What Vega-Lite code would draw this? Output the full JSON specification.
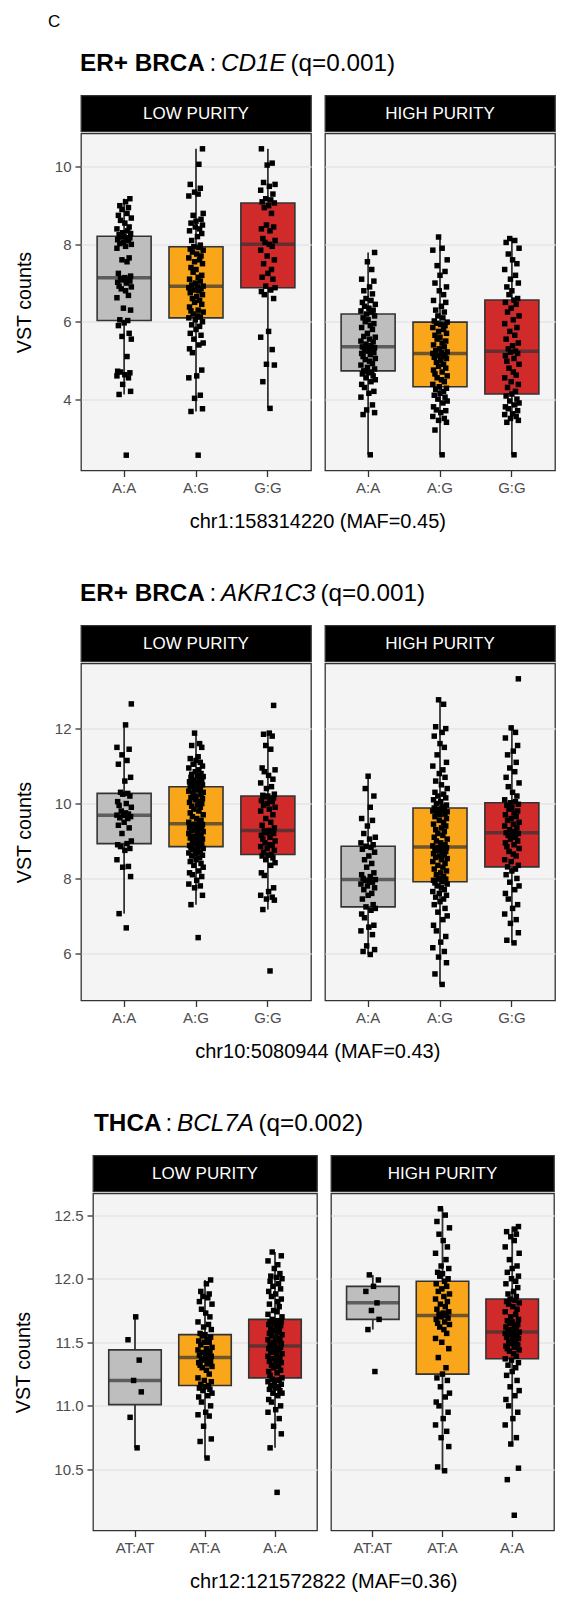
{
"$schema": "https://vega.github.io/schema/vega-lite/v6.json",
"padding": {"left": 0, "top": 13, "right": 5, "bottom": 10},
"title": {"text": "C", "anchor": "start", "fontSize": 17, "fontWeight": "normal", "dx": 48, "offset": 20, "frame": "bounds"},
"spacing": 48,
"resolve": {"scale": {"color": "independent", "xOffset": "independent"}},
"config": {
  "font": "Liberation Sans",
  "view": {"stroke": null},
  "axis": {"labelFont": "Liberation Sans", "titleFont": "Liberation Sans", "labelFontSize": 15, "labelColor": "#4D4D4D", "titleFontSize": 19.7, "titleFontWeight": "normal", "titleColor": "#000000", "tickColor": "#333333", "tickWidth": 1.3, "tickSize": 6, "domain": false, "labelPadding": 4, "gridColor": "#E5E6E5", "gridWidth": 1.3},
  "axisX": {"grid": false, "labelAngle": 0},
  "axisY": {"grid": true, "titlePadding": 20},
  "title": {"font": "Liberation Sans", "color": "#000000", "fontWeight": "normal"}
},
"datasets": {
  "pts": [
    {"pn":1,"pur":"LOW PURITY","gt":"A:A","v":[2.55,4.12,4.2,4.38,4.55,4.6,4.63,4.68,4.7,4.72,5.1,5.55,5.62,5.7,5.9,5.97,6.03,6.05,6.3,6.35,6.62,6.68,6.8,6.85,6.9,6.92,7.0,7.02,7.05,7.08,7.1,7.12,7.14,7.18,7.25,7.55,7.6,7.65,7.9,7.95,8.0,8.02,8.05,8.1,8.12,8.15,8.17,8.19,8.21,8.25,8.28,8.3,8.35,8.4,8.45,8.55,8.62,8.68,8.75,8.8,8.9,8.95,9.0,9.1,9.18]},
    {"pn":1,"pur":"LOW PURITY","gt":"A:G","v":[2.55,3.68,3.75,4.02,4.1,4.55,4.6,4.75,5.2,5.3,5.4,5.45,5.55,5.65,5.7,5.8,5.88,5.92,6.0,6.05,6.1,6.12,6.15,6.2,6.25,6.28,6.3,6.38,6.45,6.5,6.55,6.6,6.65,6.7,6.75,6.8,6.82,6.85,6.88,6.9,6.92,6.95,7.0,7.05,7.1,7.15,7.2,7.28,7.35,7.4,7.5,7.55,7.6,7.65,7.7,7.75,7.8,7.85,7.88,7.92,7.94,7.98,8.1,8.2,8.28,8.35,8.4,8.45,8.5,8.55,8.6,8.65,8.75,8.8,9.25,9.3,9.35,9.45,9.55,10.07,10.47]},
    {"pn":1,"pur":"LOW PURITY","gt":"G:G","v":[3.76,4.45,4.88,4.9,5.28,5.6,5.75,6.6,6.7,6.78,6.82,6.88,6.92,7.1,7.15,7.25,7.35,7.5,7.6,7.7,7.85,7.95,8.0,8.05,8.1,8.15,8.35,8.4,8.45,8.5,8.8,8.95,9.0,9.07,9.1,9.15,9.18,9.3,9.4,9.5,9.55,9.6,10.05,10.1,10.47]},
    {"pn":1,"pur":"HIGH PURITY","gt":"A:A","v":[2.56,3.6,3.65,3.72,3.85,4.05,4.15,4.2,4.3,4.38,4.45,4.5,4.55,4.6,4.65,4.68,4.7,4.73,4.78,4.82,4.88,4.92,4.98,5.02,5.05,5.1,5.15,5.18,5.2,5.24,5.27,5.3,5.32,5.33,5.35,5.38,5.42,5.48,5.5,5.55,5.6,5.62,5.7,5.8,5.85,5.9,5.95,6.0,6.05,6.1,6.15,6.2,6.25,6.28,6.3,6.35,6.4,6.45,6.5,6.55,6.6,6.72,6.8,6.9,7.05,7.1,7.35,7.55,7.79]},
    {"pn":1,"pur":"HIGH PURITY","gt":"A:G","v":[2.56,3.2,3.4,3.45,3.5,3.55,3.65,3.7,3.72,3.8,3.9,3.95,4.0,4.05,4.1,4.15,4.2,4.25,4.28,4.32,4.38,4.45,4.5,4.55,4.6,4.65,4.7,4.75,4.8,4.85,4.9,4.95,5.0,5.05,5.08,5.1,5.12,5.15,5.18,5.2,5.22,5.25,5.3,5.35,5.4,5.45,5.5,5.55,5.6,5.65,5.7,5.75,5.8,5.85,5.9,5.93,5.96,5.99,6.02,6.1,6.15,6.25,6.3,6.4,6.5,6.55,6.7,6.8,6.9,7.0,7.2,7.3,7.45,7.6,7.85,7.9,8.19]},
    {"pn":1,"pur":"HIGH PURITY","gt":"G:G","v":[2.56,3.4,3.45,3.5,3.55,3.6,3.62,3.7,3.75,3.8,3.85,3.9,3.95,4.0,4.08,4.13,4.2,4.3,4.38,4.45,4.55,4.62,4.7,4.8,4.9,4.98,5.05,5.12,5.18,5.21,5.24,5.3,5.38,5.45,5.55,5.65,5.75,5.85,5.95,6.05,6.15,6.25,6.35,6.45,6.5,6.56,6.6,6.7,6.8,6.9,7.0,7.1,7.2,7.35,7.5,7.6,7.75,7.9,8.05,8.1,8.15]},
    {"pn":2,"pur":"LOW PURITY","gt":"A:A","v":[6.68,7.06,8.05,8.3,8.32,8.5,8.75,8.8,8.85,8.9,8.93,9.0,9.2,9.35,9.42,9.5,9.6,9.62,9.65,9.68,9.69,9.72,9.75,9.8,9.9,9.95,10.0,10.05,10.2,10.25,10.27,10.3,10.6,10.7,11.05,11.15,11.3,11.45,11.5,12.1,12.66]},
    {"pn":2,"pur":"LOW PURITY","gt":"A:G","v":[6.42,7.3,7.55,7.75,7.8,7.85,7.95,8.05,8.1,8.15,8.2,8.3,8.35,8.4,8.45,8.5,8.55,8.6,8.62,8.65,8.68,8.7,8.74,8.77,8.8,8.82,8.85,8.88,8.9,8.93,8.96,9.0,9.02,9.05,9.08,9.1,9.13,9.16,9.2,9.22,9.25,9.28,9.3,9.32,9.35,9.37,9.39,9.4,9.42,9.43,9.44,9.45,9.46,9.5,9.55,9.6,9.65,9.7,9.75,9.8,9.85,9.9,9.93,9.96,10.0,10.03,10.06,10.1,10.13,10.16,10.2,10.24,10.28,10.3,10.33,10.36,10.4,10.42,10.45,10.48,10.5,10.52,10.55,10.58,10.6,10.63,10.66,10.7,10.72,10.75,10.78,10.8,10.85,10.9,10.95,11.0,11.05,11.1,11.15,11.2,11.25,11.5,11.55,11.6,11.88]},
    {"pn":2,"pur":"LOW PURITY","gt":"G:G","v":[5.53,7.17,7.42,7.45,7.5,7.55,7.65,7.75,8.08,8.15,8.35,8.42,8.5,8.55,8.6,8.62,8.64,8.7,8.75,8.8,8.85,8.88,8.9,8.95,9.0,9.05,9.1,9.15,9.2,9.22,9.25,9.27,9.28,9.35,9.42,9.5,9.6,9.7,9.8,9.85,9.9,9.95,10.0,10.05,10.08,10.1,10.15,10.18,10.2,10.22,10.25,10.4,10.45,10.55,10.65,10.75,10.85,10.9,10.95,11.45,11.55,11.8,11.85,11.88,12.62]},
    {"pn":2,"pur":"HIGH PURITY","gt":"A:A","v":[5.97,6.05,6.1,6.2,6.5,6.6,6.7,6.75,6.95,7.05,7.15,7.2,7.24,7.3,7.45,7.55,7.6,7.7,7.75,7.8,7.85,7.9,7.93,7.95,7.97,8.0,8.05,8.1,8.15,8.3,8.4,8.5,8.6,8.7,8.78,8.83,8.86,8.9,8.95,9.05,9.1,9.2,9.4,9.55,9.6,9.9,10.2,10.4,10.73]},
    {"pn":2,"pur":"HIGH PURITY","gt":"A:G","v":[5.17,5.45,5.75,5.9,6.05,6.15,6.3,6.45,6.6,6.75,6.9,7.0,7.1,7.2,7.3,7.38,7.45,7.5,7.55,7.6,7.65,7.7,7.75,7.8,7.85,7.88,7.91,7.95,7.98,8.0,8.05,8.1,8.15,8.2,8.25,8.3,8.35,8.4,8.45,8.5,8.53,8.56,8.6,8.63,8.66,8.7,8.72,8.75,8.78,8.8,8.82,8.83,8.84,8.87,8.9,8.95,9.0,9.05,9.1,9.15,9.2,9.25,9.3,9.35,9.4,9.45,9.5,9.55,9.6,9.65,9.7,9.72,9.75,9.78,9.8,9.83,9.85,9.87,9.88,9.92,9.96,10.0,10.05,10.1,10.15,10.2,10.25,10.3,10.4,10.5,10.6,10.7,10.8,10.9,11.0,11.1,11.3,11.5,11.6,11.8,11.9,12.0,12.05,12.65,12.77]},
    {"pn":2,"pur":"HIGH PURITY","gt":"G:G","v":[6.28,6.35,6.55,6.8,6.9,7.05,7.2,7.3,7.45,7.6,7.7,7.8,7.9,8.0,8.1,8.2,8.25,8.31,8.35,8.45,8.5,8.6,8.65,8.72,8.8,8.85,8.9,8.95,9.0,9.05,9.1,9.15,9.18,9.2,9.22,9.25,9.3,9.35,9.4,9.45,9.5,9.55,9.6,9.65,9.7,9.75,9.8,9.85,9.9,9.95,9.98,10.02,10.05,10.1,10.2,10.3,10.45,10.55,10.7,10.85,10.95,11.1,11.3,11.4,11.55,11.75,11.9,12.02,13.33]},
    {"pn":3,"pur":"LOW PURITY","gt":"AT:AT","v":[10.67,10.91,11.11,11.2,11.36,11.52,11.7]},
    {"pn":3,"pur":"LOW PURITY","gt":"AT:A","v":[10.59,10.72,10.74,10.84,10.92,10.93,10.95,11.0,11.03,11.07,11.08,11.1,11.12,11.13,11.14,11.15,11.16,11.17,11.19,11.2,11.22,11.25,11.28,11.3,11.31,11.32,11.33,11.34,11.35,11.36,11.37,11.37,11.38,11.39,11.4,11.41,11.42,11.43,11.44,11.45,11.46,11.48,11.5,11.5,11.51,11.52,11.54,11.55,11.56,11.57,11.6,11.62,11.64,11.66,11.7,11.73,11.76,11.8,11.82,11.85,11.86,11.88,11.9,11.96,11.99]},
    {"pn":3,"pur":"LOW PURITY","gt":"A:A","v":[10.32,10.67,10.78,10.84,10.9,10.95,10.97,11.0,11.03,11.05,11.08,11.1,11.1,11.12,11.13,11.14,11.15,11.16,11.17,11.18,11.19,11.2,11.2,11.21,11.22,11.24,11.26,11.27,11.28,11.3,11.31,11.32,11.33,11.34,11.35,11.36,11.37,11.38,11.39,11.4,11.41,11.42,11.43,11.44,11.45,11.45,11.46,11.46,11.47,11.48,11.49,11.5,11.51,11.52,11.53,11.54,11.55,11.56,11.57,11.58,11.59,11.6,11.61,11.62,11.63,11.64,11.65,11.65,11.66,11.66,11.67,11.67,11.68,11.7,11.72,11.74,11.75,11.78,11.8,11.82,11.84,11.86,11.88,11.9,11.92,11.94,11.96,11.98,12.0,12.01,12.02,12.04,12.08,12.11,12.14,12.18,12.21]},
    {"pn":3,"pur":"HIGH PURITY","gt":"AT:AT","v":[11.27,11.6,11.68,11.75,11.81,11.9,11.94,11.99,12.03]},
    {"pn":3,"pur":"HIGH PURITY","gt":"AT:A","v":[10.49,10.52,10.68,10.75,10.8,10.85,10.9,10.95,11.0,11.03,11.07,11.1,11.15,11.2,11.22,11.25,11.3,11.38,11.45,11.5,11.53,11.57,11.6,11.62,11.64,11.65,11.66,11.68,11.69,11.7,11.71,11.72,11.73,11.74,11.76,11.78,11.8,11.82,11.84,11.86,11.88,11.9,11.92,11.94,11.96,11.98,12.0,12.02,12.04,12.05,12.08,12.1,12.15,12.2,12.25,12.3,12.35,12.4,12.45,12.5,12.55]},
    {"pn":3,"pur":"HIGH PURITY","gt":"A:A","v":[10.14,10.42,10.51,10.7,10.75,10.85,10.9,10.95,11.0,11.05,11.08,11.12,11.15,11.2,11.24,11.27,11.3,11.32,11.34,11.36,11.37,11.39,11.41,11.43,11.44,11.45,11.46,11.47,11.48,11.49,11.5,11.51,11.52,11.53,11.54,11.55,11.56,11.56,11.57,11.57,11.58,11.59,11.6,11.61,11.62,11.63,11.64,11.65,11.66,11.67,11.68,11.7,11.72,11.74,11.76,11.78,11.8,11.81,11.82,11.83,11.84,11.86,11.88,11.9,11.93,11.96,11.98,12.0,12.02,12.05,12.08,12.1,12.15,12.2,12.25,12.3,12.33,12.35,12.37,12.39,12.41]}
  ],
  "jit": [
    {"i":1,"j":0.03},{"i":2,"j":-0.07},{"i":3,"j":0.09},{"i":4,"j":-0.02},{"i":5,"j":0.06},{"i":6,"j":-0.1},{"i":7,"j":0.01},{"i":8,"j":0.08},{"i":9,"j":-0.05},{"i":10,"j":-0.09},
    {"i":11,"j":0.04},{"i":12,"j":0.1},{"i":13,"j":-0.03},{"i":14,"j":0.07},{"i":15,"j":-0.08},{"i":16,"j":0.0},{"i":17,"j":0.05},{"i":18,"j":-0.06},{"i":19,"j":0.09},{"i":20,"j":-0.01},
    {"i":21,"j":-0.1},{"i":22,"j":0.06},{"i":23,"j":0.02},{"i":24,"j":-0.04},{"i":25,"j":0.1},{"i":26,"j":-0.07},{"i":27,"j":0.03},{"i":28,"j":-0.09},{"i":29,"j":0.08},{"i":30,"j":-0.02},
    {"i":31,"j":0.05},{"i":32,"j":-0.05},{"i":33,"j":0.01},{"i":34,"j":0.09},{"i":35,"j":-0.08},{"i":36,"j":0.04},{"i":37,"j":-0.03},{"i":38,"j":0.07},{"i":39,"j":-0.1},{"i":40,"j":0.02},
    {"i":41,"j":0.1},{"i":42,"j":-0.06},{"i":43,"j":-0.01},{"i":44,"j":0.06},{"i":45,"j":-0.09},{"i":46,"j":0.03},{"i":47,"j":0.08},{"i":48,"j":-0.04},{"i":49,"j":0.0},{"i":50,"j":-0.07},
    {"i":51,"j":0.09},{"i":52,"j":-0.02},{"i":53,"j":0.05},{"i":54,"j":-0.1},{"i":55,"j":0.07},{"i":56,"j":0.01},{"i":57,"j":-0.05},{"i":58,"j":0.1},{"i":59,"j":-0.08},{"i":60,"j":0.04},
    {"i":61,"j":-0.03},{"i":62,"j":0.06},{"i":63,"j":-0.06},{"i":64,"j":0.02},{"i":65,"j":0.08},{"i":66,"j":-0.09},{"i":67,"j":0.05},{"i":68,"j":-0.01},{"i":69,"j":0.09},{"i":70,"j":-0.07},
    {"i":71,"j":0.0},{"i":72,"j":0.07},{"i":73,"j":-0.04},{"i":74,"j":0.1},{"i":75,"j":-0.1},{"i":76,"j":0.03},{"i":77,"j":-0.02},{"i":78,"j":0.06},{"i":79,"j":-0.08},{"i":80,"j":0.04},
    {"i":81,"j":0.09},{"i":82,"j":-0.05},{"i":83,"j":0.01},{"i":84,"j":-0.09},{"i":85,"j":0.08},{"i":86,"j":-0.03},{"i":87,"j":0.05},{"i":88,"j":-0.07},{"i":89,"j":0.1},{"i":90,"j":0.02},
    {"i":91,"j":-0.06},{"i":92,"j":0.07},{"i":93,"j":-0.01},{"i":94,"j":0.04},{"i":95,"j":-0.1},{"i":96,"j":0.09},{"i":97,"j":-0.04},{"i":98,"j":0.06},{"i":99,"j":0.0},{"i":100,"j":-0.08},
    {"i":101,"j":0.03},{"i":102,"j":0.08},{"i":103,"j":-0.06},{"i":104,"j":0.05},{"i":105,"j":-0.02}
  ]
},
"vconcat": [
  {
    "spacing": 17.5,
    "resolve": {"scale": {"color": "independent", "xOffset": "independent"}},
    "vconcat": [
      {
        "spacing": 3.5,
        "hconcat": [
          {"width": 76, "height": 26, "data": {"values": []}, "mark": "text", "encoding": {"text": {"field": "t", "type": "nominal"}}},
          {"width": 1, "height": 26, "data": {"values": [{"t": "ER+ BRCA"}]}, "mark": {"type": "text", "align": "left", "baseline": "middle", "fontSize": 24.3, "fontWeight": "bold", "color": "#000000"}, "encoding": {"text": {"field": "t", "type": "nominal"}}},
          {"width": 1, "height": 26, "data": {"values": [{"t": ":"}]}, "mark": {"type": "text", "align": "left", "baseline": "middle", "fontSize": 24.3, "color": "#000000"}, "encoding": {"text": {"field": "t", "type": "nominal"}}},
          {"width": 1, "height": 26, "data": {"values": [{"t": "CD1E"}]}, "mark": {"type": "text", "align": "left", "baseline": "middle", "fontSize": 24.3, "fontStyle": "italic", "color": "#000000"}, "encoding": {"text": {"field": "t", "type": "nominal"}}},
          {"width": 1, "height": 26, "data": {"values": [{"t": "(q=0.001)"}]}, "mark": {"type": "text", "align": "left", "baseline": "middle", "fontSize": 24.3, "color": "#000000"}, "encoding": {"text": {"field": "t", "type": "nominal"}}}
        ]
      },
      {
        "spacing": 12,
        "resolve": {"scale": {"color": "independent", "xOffset": "independent"}},
        "title": {"text": "chr1:158314220 (MAF=0.45)", "orient": "bottom", "anchor": "middle", "frame": "bounds", "fontSize": 20, "fontWeight": "normal", "offset": 16, "dx": 40},
        "hconcat": [
          {"width": 1, "height": 1, "data": {"values": []}, "mark": "text", "encoding": {"text": {"field": "t", "type": "nominal"}}},
          {
            "spacing": 0,
            "vconcat": [
              {"width": 230, "height": 36, "view": {"fill": "#000000", "stroke": "#333333", "strokeWidth": 1.3}, "data": {"values": [{"t": "LOW PURITY"}]}, "mark": {"type": "text", "color": "#FFFFFF", "fontSize": 17, "baseline": "middle", "align": "center"}, "encoding": {"text": {"field": "t", "type": "nominal"}}},
              {
                "width": 230, "height": 337,
                "view": {"fill": "#F3F4F3", "stroke": "#333333", "strokeWidth": 1.3},
                "data": {"name": "pts"},
                "transform": [
                  {"filter": "datum.pn == 1 && datum.pur == 'LOW PURITY'"},
                  {"flatten": ["v"]},
                  {"window": [{"op": "row_number", "as": "i"}], "groupby": ["gt"]},
                  {"lookup": "i", "from": {"data": {"name": "jit"}, "key": "i", "fields": ["j"]}}
                ],
                "encoding": {
                  "x": {"field": "gt", "type": "nominal", "scale": {"domain": ["A:A","A:G","G:G"], "paddingInner": 0.25, "paddingOuter": 0.225}, "axis": {"title": null}},
                  "y": {"field": "v", "type": "quantitative", "scale": {"domain": [2.154, 10.866], "nice": false, "zero": false}, "axis": {"title": "VST counts", "values": [4,6,8,10]}}
                },
                "layer": [
                  {"mark": {"type": "boxplot", "extent": 1.5, "outliers": false, "ticks": false, "size": 54, "rule": {"color": "#333333", "strokeWidth": 1.8}, "box": {"stroke": "#333333", "strokeWidth": 1.6}, "median": {"color": "#333333", "thickness": 3.5}},
                   "encoding": {"color": {"field": "gt", "type": "nominal", "scale": {"domain": ["A:A","A:G","G:G"], "range": ["#BEBEBE","#F9A61A","#D02A2A"]}, "legend": null}}},
                  {"mark": {"type": "point", "shape": "square", "filled": true, "size": 30, "color": "#000000", "opacity": 1, "strokeWidth": 0},
                   "encoding": {"xOffset": {"field": "j", "type": "quantitative", "scale": {"domain": [-0.375, 0.375]}}}}
                ]
              }
            ]
          },
          {
            "spacing": 0,
            "vconcat": [
              {"width": 230, "height": 36, "view": {"fill": "#000000", "stroke": "#333333", "strokeWidth": 1.3}, "data": {"values": [{"t": "HIGH PURITY"}]}, "mark": {"type": "text", "color": "#FFFFFF", "fontSize": 17, "baseline": "middle", "align": "center"}, "encoding": {"text": {"field": "t", "type": "nominal"}}},
              {
                "width": 230, "height": 337,
                "view": {"fill": "#F3F4F3", "stroke": "#333333", "strokeWidth": 1.3},
                "data": {"name": "pts"},
                "transform": [
                  {"filter": "datum.pn == 1 && datum.pur == 'HIGH PURITY'"},
                  {"flatten": ["v"]},
                  {"window": [{"op": "row_number", "as": "i"}], "groupby": ["gt"]},
                  {"lookup": "i", "from": {"data": {"name": "jit"}, "key": "i", "fields": ["j"]}}
                ],
                "encoding": {
                  "x": {"field": "gt", "type": "nominal", "scale": {"domain": ["A:A","A:G","G:G"], "paddingInner": 0.25, "paddingOuter": 0.225}, "axis": {"title": null}},
                  "y": {"field": "v", "type": "quantitative", "scale": {"domain": [2.154, 10.866], "nice": false, "zero": false}, "axis": {"title": null, "values": [4,6,8,10], "labels": false, "ticks": false}}
                },
                "layer": [
                  {"mark": {"type": "boxplot", "extent": 1.5, "outliers": false, "ticks": false, "size": 54, "rule": {"color": "#333333", "strokeWidth": 1.8}, "box": {"stroke": "#333333", "strokeWidth": 1.6}, "median": {"color": "#333333", "thickness": 3.5}},
                   "encoding": {"color": {"field": "gt", "type": "nominal", "scale": {"domain": ["A:A","A:G","G:G"], "range": ["#BEBEBE","#F9A61A","#D02A2A"]}, "legend": null}}},
                  {"mark": {"type": "point", "shape": "square", "filled": true, "size": 30, "color": "#000000", "opacity": 1, "strokeWidth": 0},
                   "encoding": {"xOffset": {"field": "j", "type": "quantitative", "scale": {"domain": [-0.375, 0.375]}}}}
                ]
              }
            ]
          }
        ]
      }
    ]
  },
  {
    "spacing": 17.5,
    "resolve": {"scale": {"color": "independent", "xOffset": "independent"}},
    "vconcat": [
      {
        "spacing": 3.5,
        "hconcat": [
          {"width": 76, "height": 26, "data": {"values": []}, "mark": "text", "encoding": {"text": {"field": "t", "type": "nominal"}}},
          {"width": 1, "height": 26, "data": {"values": [{"t": "ER+ BRCA"}]}, "mark": {"type": "text", "align": "left", "baseline": "middle", "fontSize": 24.3, "fontWeight": "bold", "color": "#000000"}, "encoding": {"text": {"field": "t", "type": "nominal"}}},
          {"width": 1, "height": 26, "data": {"values": [{"t": ":"}]}, "mark": {"type": "text", "align": "left", "baseline": "middle", "fontSize": 24.3, "color": "#000000"}, "encoding": {"text": {"field": "t", "type": "nominal"}}},
          {"width": 1, "height": 26, "data": {"values": [{"t": "AKR1C3"}]}, "mark": {"type": "text", "align": "left", "baseline": "middle", "fontSize": 24.3, "fontStyle": "italic", "color": "#000000"}, "encoding": {"text": {"field": "t", "type": "nominal"}}},
          {"width": 1, "height": 26, "data": {"values": [{"t": "(q=0.001)"}]}, "mark": {"type": "text", "align": "left", "baseline": "middle", "fontSize": 24.3, "color": "#000000"}, "encoding": {"text": {"field": "t", "type": "nominal"}}}
        ]
      },
      {
        "spacing": 12,
        "resolve": {"scale": {"color": "independent", "xOffset": "independent"}},
        "title": {"text": "chr10:5080944 (MAF=0.43)", "orient": "bottom", "anchor": "middle", "frame": "bounds", "fontSize": 20, "fontWeight": "normal", "offset": 16, "dx": 40},
        "hconcat": [
          {"width": 1, "height": 1, "data": {"values": []}, "mark": "text", "encoding": {"text": {"field": "t", "type": "nominal"}}},
          {
            "spacing": 0,
            "vconcat": [
              {"width": 230, "height": 36, "view": {"fill": "#000000", "stroke": "#333333", "strokeWidth": 1.3}, "data": {"values": [{"t": "LOW PURITY"}]}, "mark": {"type": "text", "color": "#FFFFFF", "fontSize": 17, "baseline": "middle", "align": "center"}, "encoding": {"text": {"field": "t", "type": "nominal"}}},
              {
                "width": 230, "height": 337,
                "view": {"fill": "#F3F4F3", "stroke": "#333333", "strokeWidth": 1.3},
                "data": {"name": "pts"},
                "transform": [
                  {"filter": "datum.pn == 2 && datum.pur == 'LOW PURITY'"},
                  {"flatten": ["v"]},
                  {"window": [{"op": "row_number", "as": "i"}], "groupby": ["gt"]},
                  {"lookup": "i", "from": {"data": {"name": "jit"}, "key": "i", "fields": ["j"]}}
                ],
                "encoding": {
                  "x": {"field": "gt", "type": "nominal", "scale": {"domain": ["A:A","A:G","G:G"], "paddingInner": 0.25, "paddingOuter": 0.225}, "axis": {"title": null}},
                  "y": {"field": "v", "type": "quantitative", "scale": {"domain": [4.741, 13.739], "nice": false, "zero": false}, "axis": {"title": "VST counts", "values": [6,8,10,12]}}
                },
                "layer": [
                  {"mark": {"type": "boxplot", "extent": 1.5, "outliers": false, "ticks": false, "size": 54, "rule": {"color": "#333333", "strokeWidth": 1.8}, "box": {"stroke": "#333333", "strokeWidth": 1.6}, "median": {"color": "#333333", "thickness": 3.5}},
                   "encoding": {"color": {"field": "gt", "type": "nominal", "scale": {"domain": ["A:A","A:G","G:G"], "range": ["#BEBEBE","#F9A61A","#D02A2A"]}, "legend": null}}},
                  {"mark": {"type": "point", "shape": "square", "filled": true, "size": 30, "color": "#000000", "opacity": 1, "strokeWidth": 0},
                   "encoding": {"xOffset": {"field": "j", "type": "quantitative", "scale": {"domain": [-0.375, 0.375]}}}}
                ]
              }
            ]
          },
          {
            "spacing": 0,
            "vconcat": [
              {"width": 230, "height": 36, "view": {"fill": "#000000", "stroke": "#333333", "strokeWidth": 1.3}, "data": {"values": [{"t": "HIGH PURITY"}]}, "mark": {"type": "text", "color": "#FFFFFF", "fontSize": 17, "baseline": "middle", "align": "center"}, "encoding": {"text": {"field": "t", "type": "nominal"}}},
              {
                "width": 230, "height": 337,
                "view": {"fill": "#F3F4F3", "stroke": "#333333", "strokeWidth": 1.3},
                "data": {"name": "pts"},
                "transform": [
                  {"filter": "datum.pn == 2 && datum.pur == 'HIGH PURITY'"},
                  {"flatten": ["v"]},
                  {"window": [{"op": "row_number", "as": "i"}], "groupby": ["gt"]},
                  {"lookup": "i", "from": {"data": {"name": "jit"}, "key": "i", "fields": ["j"]}}
                ],
                "encoding": {
                  "x": {"field": "gt", "type": "nominal", "scale": {"domain": ["A:A","A:G","G:G"], "paddingInner": 0.25, "paddingOuter": 0.225}, "axis": {"title": null}},
                  "y": {"field": "v", "type": "quantitative", "scale": {"domain": [4.741, 13.739], "nice": false, "zero": false}, "axis": {"title": null, "values": [6,8,10,12], "labels": false, "ticks": false}}
                },
                "layer": [
                  {"mark": {"type": "boxplot", "extent": 1.5, "outliers": false, "ticks": false, "size": 54, "rule": {"color": "#333333", "strokeWidth": 1.8}, "box": {"stroke": "#333333", "strokeWidth": 1.6}, "median": {"color": "#333333", "thickness": 3.5}},
                   "encoding": {"color": {"field": "gt", "type": "nominal", "scale": {"domain": ["A:A","A:G","G:G"], "range": ["#BEBEBE","#F9A61A","#D02A2A"]}, "legend": null}}},
                  {"mark": {"type": "point", "shape": "square", "filled": true, "size": 30, "color": "#000000", "opacity": 1, "strokeWidth": 0},
                   "encoding": {"xOffset": {"field": "j", "type": "quantitative", "scale": {"domain": [-0.375, 0.375]}}}}
                ]
              }
            ]
          }
        ]
      }
    ]
  },
  {
    "spacing": 17.5,
    "resolve": {"scale": {"color": "independent", "xOffset": "independent"}},
    "vconcat": [
      {
        "spacing": 3.5,
        "hconcat": [
          {"width": 89.5, "height": 26, "data": {"values": []}, "mark": "text", "encoding": {"text": {"field": "t", "type": "nominal"}}},
          {"width": 1, "height": 26, "data": {"values": [{"t": "THCA"}]}, "mark": {"type": "text", "align": "left", "baseline": "middle", "fontSize": 24.3, "fontWeight": "bold", "color": "#000000"}, "encoding": {"text": {"field": "t", "type": "nominal"}}},
          {"width": 1, "height": 26, "data": {"values": [{"t": ":"}]}, "mark": {"type": "text", "align": "left", "baseline": "middle", "fontSize": 24.3, "color": "#000000"}, "encoding": {"text": {"field": "t", "type": "nominal"}}},
          {"width": 1, "height": 26, "data": {"values": [{"t": "BCL7A"}]}, "mark": {"type": "text", "align": "left", "baseline": "middle", "fontSize": 24.3, "fontStyle": "italic", "color": "#000000"}, "encoding": {"text": {"field": "t", "type": "nominal"}}},
          {"width": 1, "height": 26, "data": {"values": [{"t": "(q=0.002)"}]}, "mark": {"type": "text", "align": "left", "baseline": "middle", "fontSize": 24.3, "color": "#000000"}, "encoding": {"text": {"field": "t", "type": "nominal"}}}
        ]
      },
      {
        "spacing": 12,
        "resolve": {"scale": {"color": "independent", "xOffset": "independent"}},
        "title": {"text": "chr12:121572822 (MAF=0.36)", "orient": "bottom", "anchor": "middle", "frame": "bounds", "fontSize": 20, "fontWeight": "normal", "offset": 16, "dx": 46.5},
        "hconcat": [
          {"width": 1, "height": 1, "data": {"values": []}, "mark": "text", "encoding": {"text": {"field": "t", "type": "nominal"}}},
          {
            "spacing": 0,
            "vconcat": [
              {"width": 224, "height": 36, "view": {"fill": "#000000", "stroke": "#333333", "strokeWidth": 1.3}, "data": {"values": [{"t": "LOW PURITY"}]}, "mark": {"type": "text", "color": "#FFFFFF", "fontSize": 17, "baseline": "middle", "align": "center"}, "encoding": {"text": {"field": "t", "type": "nominal"}}},
              {
                "width": 224, "height": 337,
                "view": {"fill": "#F3F4F3", "stroke": "#333333", "strokeWidth": 1.3},
                "data": {"name": "pts"},
                "transform": [
                  {"filter": "datum.pn == 3 && datum.pur == 'LOW PURITY'"},
                  {"flatten": ["v"]},
                  {"window": [{"op": "row_number", "as": "i"}], "groupby": ["gt"]},
                  {"lookup": "i", "from": {"data": {"name": "jit"}, "key": "i", "fields": ["j"]}}
                ],
                "encoding": {
                  "x": {"field": "gt", "type": "nominal", "scale": {"domain": ["AT:AT","AT:A","A:A"], "paddingInner": 0.25, "paddingOuter": 0.225}, "axis": {"title": null}},
                  "y": {"field": "v", "type": "quantitative", "scale": {"domain": [10.02, 12.67], "nice": false, "zero": false}, "axis": {"title": "VST counts", "values": [10.5,11,11.5,12,12.5], "format": ".1f"}}
                },
                "layer": [
                  {"mark": {"type": "boxplot", "extent": 1.5, "outliers": false, "ticks": false, "size": 52.5, "rule": {"color": "#333333", "strokeWidth": 1.8}, "box": {"stroke": "#333333", "strokeWidth": 1.6}, "median": {"color": "#333333", "thickness": 3.5}},
                   "encoding": {"color": {"field": "gt", "type": "nominal", "scale": {"domain": ["AT:AT","AT:A","A:A"], "range": ["#BEBEBE","#F9A61A","#D02A2A"]}, "legend": null}}},
                  {"mark": {"type": "point", "shape": "square", "filled": true, "size": 30, "color": "#000000", "opacity": 1, "strokeWidth": 0},
                   "encoding": {"xOffset": {"field": "j", "type": "quantitative", "scale": {"domain": [-0.375, 0.375]}}}}
                ]
              }
            ]
          },
          {
            "spacing": 0,
            "vconcat": [
              {"width": 223, "height": 36, "view": {"fill": "#000000", "stroke": "#333333", "strokeWidth": 1.3}, "data": {"values": [{"t": "HIGH PURITY"}]}, "mark": {"type": "text", "color": "#FFFFFF", "fontSize": 17, "baseline": "middle", "align": "center"}, "encoding": {"text": {"field": "t", "type": "nominal"}}},
              {
                "width": 223, "height": 337,
                "view": {"fill": "#F3F4F3", "stroke": "#333333", "strokeWidth": 1.3},
                "data": {"name": "pts"},
                "transform": [
                  {"filter": "datum.pn == 3 && datum.pur == 'HIGH PURITY'"},
                  {"flatten": ["v"]},
                  {"window": [{"op": "row_number", "as": "i"}], "groupby": ["gt"]},
                  {"lookup": "i", "from": {"data": {"name": "jit"}, "key": "i", "fields": ["j"]}}
                ],
                "encoding": {
                  "x": {"field": "gt", "type": "nominal", "scale": {"domain": ["AT:AT","AT:A","A:A"], "paddingInner": 0.25, "paddingOuter": 0.225}, "axis": {"title": null}},
                  "y": {"field": "v", "type": "quantitative", "scale": {"domain": [10.02, 12.67], "nice": false, "zero": false}, "axis": {"title": null, "values": [10.5,11,11.5,12,12.5], "labels": false, "ticks": false}}
                },
                "layer": [
                  {"mark": {"type": "boxplot", "extent": 1.5, "outliers": false, "ticks": false, "size": 52.5, "rule": {"color": "#333333", "strokeWidth": 1.8}, "box": {"stroke": "#333333", "strokeWidth": 1.6}, "median": {"color": "#333333", "thickness": 3.5}},
                   "encoding": {"color": {"field": "gt", "type": "nominal", "scale": {"domain": ["AT:AT","AT:A","A:A"], "range": ["#BEBEBE","#F9A61A","#D02A2A"]}, "legend": null}}},
                  {"mark": {"type": "point", "shape": "square", "filled": true, "size": 30, "color": "#000000", "opacity": 1, "strokeWidth": 0},
                   "encoding": {"xOffset": {"field": "j", "type": "quantitative", "scale": {"domain": [-0.375, 0.375]}}}}
                ]
              }
            ]
          }
        ]
      }
    ]
  }
]
}
